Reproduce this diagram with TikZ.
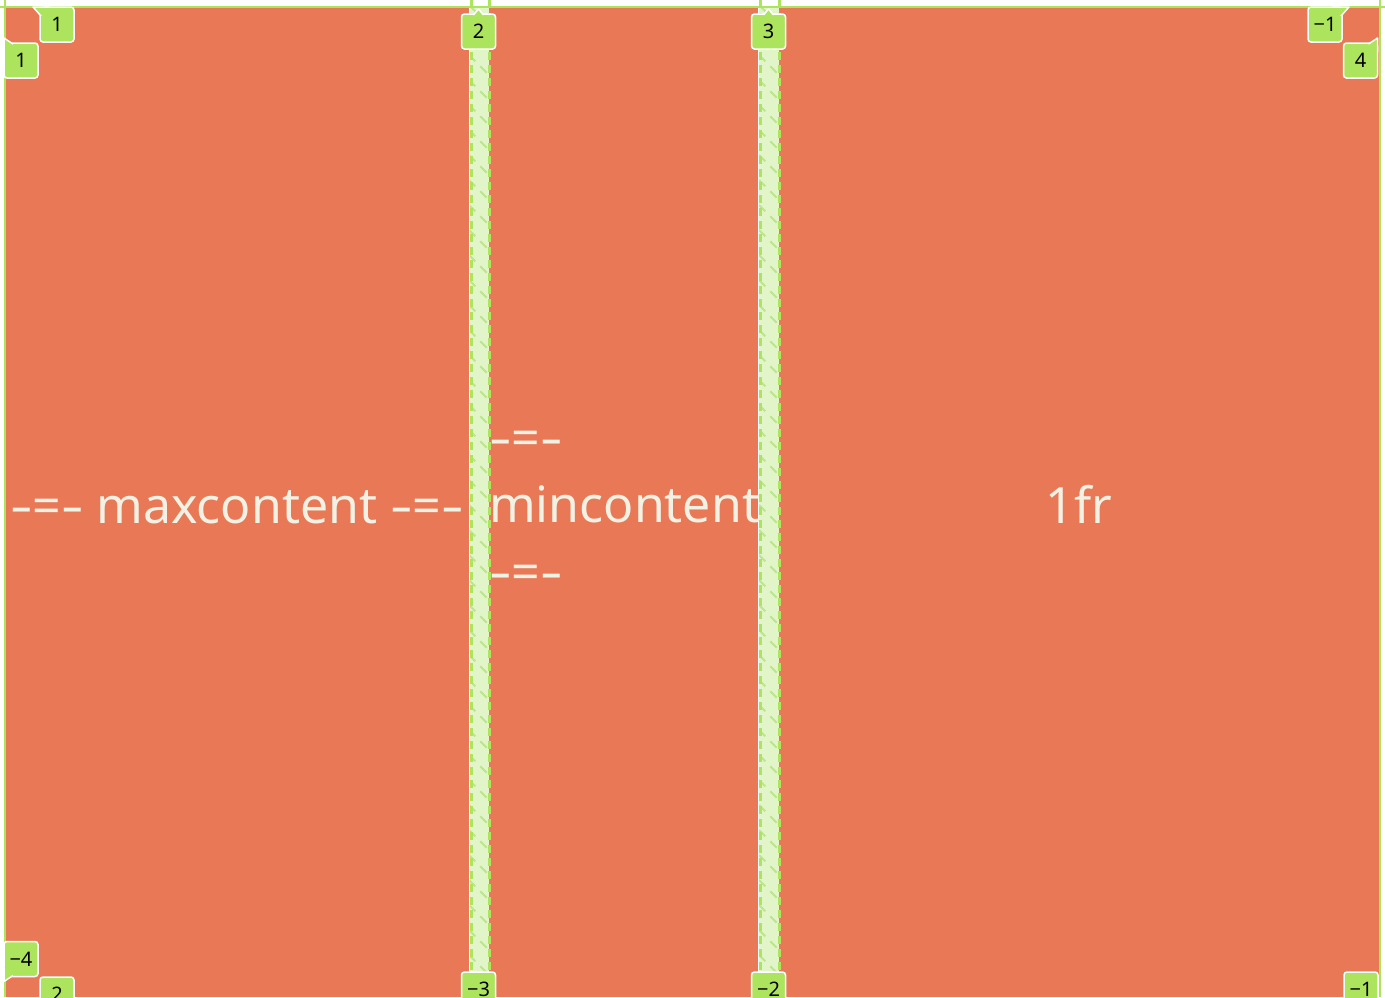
\documentclass[tikz,border=0pt]{standalone}
\usepackage{graphicx}
\usepackage{fontspec}
\setmainfont{Noto Sans}
\definecolor{trackred}{RGB}{232,120,86}
\definecolor{linegreen}{RGB}{172,228,94}
\definecolor{gapgreen}{RGB}{225,245,200}
\definecolor{hatchgreen}{RGB}{188,230,140}
\definecolor{cream}{RGB}{241,241,228}
\newcommand{\widedash}{\scalebox{1.4}[1]{-}}

\begin{document}
\begin{tikzpicture}[x=1pt,y=-1pt,
  numtag/.style={fill=linegreen,draw=white,line width=1.5pt,rounded corners=3pt,
    minimum width=34pt,minimum height=35pt,inner sep=0pt,outer sep=0pt,
    font=\fontsize{20}{20}\selectfont},
  tail/.style={fill=linegreen,draw=white,line width=1.5pt,line join=round},
  cell/.style={text=cream,inner sep=0pt,font=\fontsize{50}{67}\selectfont},
  gapline/.style={linegreen,line width=2.5pt,dash pattern=on 8pt off 5pt},
  hatch/.style={hatchgreen,line width=2pt,dash pattern=on 9pt off 7pt}]
\useasboundingbox (0,0) rectangle (1385,997);
\fill[white] (0,0) rectangle (1385,997);

\fill[trackred] (5,8) rectangle (469,997);
\fill[trackred] (489,8) rectangle (759,997);
\fill[trackred] (779,8) rectangle (1379,997);

\fill[gapgreen] (469,8) rectangle (489,997);
\fill[gapgreen] (759,8) rectangle (779,997);
\begin{scope}
\clip (469,8) rectangle (489,997);
\foreach \y in {-20,5,...,1000}
  \draw[hatch] (469,\y) -- (489,\y+20);
\end{scope}
\begin{scope}
\clip (759,8) rectangle (779,997);
\foreach \y in {-20,5,...,1000}
  \draw[hatch] (759,\y) -- (779,\y+20);
\end{scope}

\draw[white,line width=1.5pt] (469.5,8) -- (469.5,997);
\draw[white,line width=1.5pt] (758.5,8) -- (758.5,997);
\draw[gapline] (471.5,0) -- (471.5,997);
\draw[gapline] (489.5,0) -- (489.5,997);
\draw[gapline] (760.5,0) -- (760.5,997);
\draw[gapline] (779.5,0) -- (779.5,997);

\draw[linegreen,line width=2pt] (0,7) -- (1385,7);
\draw[linegreen,line width=2pt] (4.5,0) -- (4.5,997);
\draw[linegreen,line width=2pt] (1379.5,0) -- (1379.5,997);

\node[cell] (maxCell) at (237,523) [anchor=base] {\widedash=\widedash{} maxcontent \widedash=\widedash};
\node[cell,align=left,anchor=west] (minCell) at (489,510) {\widedash=\widedash\\mincontent\\\widedash=\widedash};
\node[cell] (frCell) at (1079,523) [anchor=base] {1fr};

\node[numtag] (topOne) at (57,24.5) {1};
\node[numtag] (leftOne) at (21,60.5) {1};
\node[numtag] (topTwo) at (478.5,31.5) {2};
\node[numtag] (topThree) at (768.5,31.5) {3};
\node[numtag] (topMinusOne) at (1325,24.5) {−1};
\node[numtag] (rightFour) at (1360.5,60.5) {4};
\node[numtag] (leftMinusFour) at (21,959) {−4};
\node[numtag] (botTwo) at (57,994.5) {2};
\node[numtag] (botMinusThree) at (478.5,989.5) {−3};
\node[numtag] (botMinusTwo) at (768.5,989.5) {−2};
\node[numtag] (botMinusOne) at (1361,989.5) {−1};

\filldraw[tail] ([shift={(1,9)}]topOne.north west) -- ([shift={(-7,0)}]topOne.north west) -- ([shift={(10,0)}]topOne.north west);
\filldraw[tail] ([shift={(0,9)}]leftOne.north west) -- ([shift={(0,-5)}]leftOne.north west) -- ([shift={(9,1)}]leftOne.north west);
\filldraw[tail] ([shift={(-5,1)}]topTwo.north) -- ([shift={(0,-5)}]topTwo.north) -- ([shift={(5,1)}]topTwo.north);
\filldraw[tail] ([shift={(-5,1)}]topThree.north) -- ([shift={(0,-5)}]topThree.north) -- ([shift={(5,1)}]topThree.north);
\filldraw[tail] ([shift={(-1,9)}]topMinusOne.north east) -- ([shift={(7,0)}]topMinusOne.north east) -- ([shift={(-10,0)}]topMinusOne.north east);
\filldraw[tail] ([shift={(0,9)}]rightFour.north east) -- ([shift={(0,-5)}]rightFour.north east) -- ([shift={(-9,1)}]rightFour.north east);
\filldraw[tail] ([shift={(0,-9)}]leftMinusFour.south west) -- ([shift={(0,5)}]leftMinusFour.south west) -- ([shift={(9,-1)}]leftMinusFour.south west);
\end{tikzpicture}
\end{document}
